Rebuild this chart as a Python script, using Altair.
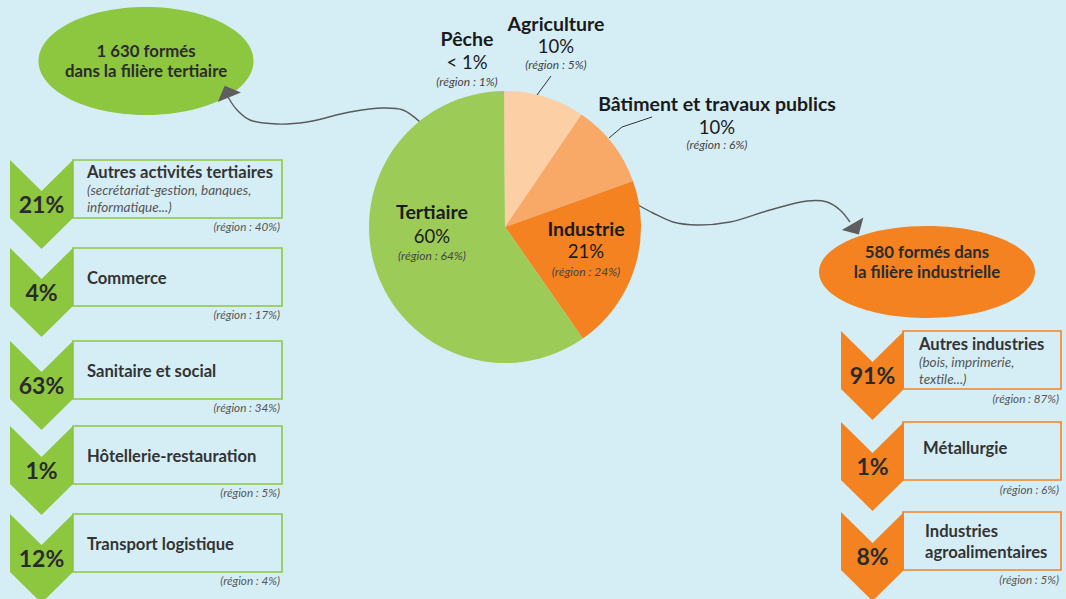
import altair as alt
import pandas as pd

# ------------------------------------------------------------------ data
pie_sectors = ["Agriculture", "Bâtiment et travaux publics", "Industrie", "Tertiaire", "Pêche"]
pie_shares = [9.5, 10.0, 20.8, 59.6, 0.1]          # slice sizes
pie_pct_labels = ["10%", "10%", "21%", "60%", "< 1%"]
pie_region = ["(région : 5%)", "(région : 6%)", "(région : 24%)", "(région : 64%)", "(région : 1%)"]
pie_colors = ["#FCCFA5", "#F8A867", "#F58220", "#9DCB57", "#FAC79A"]

tert_titles = ["Autres activités tertiaires", "Commerce", "Sanitaire et social",
               "Hôtellerie-restauration", "Transport logistique"]
tert_details = [["(secrétariat-gestion, banques,", "informatique...)"], [], [], [], []]
tert_shares = ["21%", "4%", "63%", "1%", "12%"]
tert_region = ["(région : 40%)", "(région : 17%)", "(région : 34%)", "(région : 5%)", "(région : 4%)"]

ind_titles = [["Autres industries"], ["Métallurgie"], ["Industries", "agroalimentaires"]]
ind_details = [["(bois, imprimerie,", "textile...)"], [], []]
ind_shares = ["91%", "1%", "8%"]
ind_region = ["(région : 87%)", "(région : 6%)", "(région : 5%)"]

bubble_tert = ["1 630 formés", "dans la filière tertiaire"]
bubble_ind = ["580 formés dans", "la filière industrielle"]

# ------------------------------------------------------------------ layout / style
W, H = 1066, 599
BG = "#D5EEF6"
GREEN = "#8DC63F"
ORANGE = "#F58220"
DARK = "#2B2B2B"
FONT = "Lato"

PIE_CX, PIE_CY, PIE_R = 505, 227, 136

X = alt.X("x:Q", scale=alt.Scale(domain=[0, W], nice=False, zero=False), axis=None)
Y = alt.Y("y:Q", scale=alt.Scale(domain=[0, H], nice=False, zero=False, reverse=True), axis=None)


def txt(rows, size, weight="normal", style="normal", align="center", color=DARK):
    df = pd.DataFrame(rows, columns=["text", "x", "y"])
    return alt.Chart(df).mark_text(
        font=FONT, fontSize=size, fontWeight=weight, fontStyle=style,
        align=align, baseline="middle", color=color
    ).encode(x=X, y=Y, text="text:N")


def symbol(df, path, size, color):
    return (alt.Chart(df)
            .mark_point(shape=path, size=size, filled=True, color=color, opacity=1, strokeWidth=0)
            .encode(x=X, y=Y))


layers = []

# ---- ellipses (bubbles)
def ellipse_path(b):
    k = 0.5523
    return (f"M -1 0 C -1 {-k*b:.4f} {-k:.4f} {-b:.4f} 0 {-b:.4f} "
            f"C {k:.4f} {-b:.4f} 1 {-k*b:.4f} 1 0 "
            f"C 1 {k*b:.4f} {k:.4f} {b:.4f} 0 {b:.4f} "
            f"C {-k:.4f} {b:.4f} -1 {k*b:.4f} -1 0 Z")

for (cx, cy, rx, ry, col) in [(146, 61, 107.5, 54, GREEN), (927, 272, 108, 46, ORANGE)]:
    layers.append(symbol(pd.DataFrame({"x": [cx], "y": [cy]}), ellipse_path(ry / rx), (2 * rx) ** 2, col))

# ---- curved arrows
curve_left = [(420, 122), (403, 110), (383, 108), (350, 112), (307, 122), (277, 124),
              (250, 120), (237, 110), (228, 97)]
curve_right = [(638, 205), (653, 213), (673, 222), (697, 225), (730, 222), (770, 210),
               (807, 201), (827, 202), (840, 210), (850, 222)]
rows = []
for cid, pts in enumerate([curve_left, curve_right]):
    for i, (px, py) in enumerate(pts):
        rows.append({"id": cid, "i": i, "x": px, "y": py})
layers.append(
    alt.Chart(pd.DataFrame(rows)).mark_line(interpolate="catmull-rom", color="#5A5A5A", strokeWidth=1.4)
    .encode(x=X, y=Y, order="i:Q", detail="id:N")
)
tri = "M 0 -0.5 L 1 0.5 L -1 0.5 Z"
layers.append(
    alt.Chart(pd.DataFrame({"x": [227, 855.7], "y": [91.5, 229.2], "a": [338, 150]}))
    .mark_point(shape=tri, size=625, filled=True, color="#5E5E5E", opacity=1, strokeWidth=0)
    .encode(x=X, y=Y, angle=alt.Angle("a:Q", scale=None))
)

# ---- pie
pie_df = pd.DataFrame({"sector": pie_sectors, "share": pie_shares, "ord": range(len(pie_sectors))})
layers.append(
    alt.Chart(pie_df).mark_arc(radius=PIE_R)
    .encode(theta=alt.Theta("share:Q", stack=True), order=alt.Order("ord:Q"),
            color=alt.Color("sector:N", scale=alt.Scale(domain=pie_sectors, range=pie_colors), legend=None),
            x=alt.value(PIE_CX), y=alt.value(PIE_CY))
)

# ---- leader lines
lead = [{"id": 0, "i": 0, "x": 551, "y": 76}, {"id": 0, "i": 1, "x": 537, "y": 95},
        {"id": 1, "i": 0, "x": 652, "y": 117}, {"id": 1, "i": 1, "x": 622, "y": 127},
        {"id": 1, "i": 2, "x": 609, "y": 138}]
layers.append(
    alt.Chart(pd.DataFrame(lead)).mark_line(color="#333333", strokeWidth=1)
    .encode(x=X, y=Y, order="i:Q", detail="id:N")
)

# ---- pie labels
pie_title_pos = {"Pêche": (467, 40), "Agriculture": (556, 25), "Bâtiment et travaux publics": (717, 105),
                 "Tertiaire": (432, 213), "Industrie": (586, 230)}
pct_dy = {"Pêche": 23, "Agriculture": 22, "Bâtiment et travaux publics": 23, "Tertiaire": 24, "Industrie": 22}
reg_dy = {"Pêche": 42, "Agriculture": 40, "Bâtiment et travaux publics": 40, "Tertiaire": 43, "Industrie": 42}
t_rows, p_rows, r_rows = [], [], []
for s, pl, rg in zip(pie_sectors, pie_pct_labels, pie_region):
    px, py = pie_title_pos[s]
    t_rows.append((s, px, py))
    p_rows.append((pl, px, py + pct_dy[s]))
    r_rows.append((rg, px, py + reg_dy[s]))
layers.append(txt(t_rows, 19.5, weight="bold", color="#1A1A1A"))
layers.append(txt(p_rows, 18.5, color="#1A1A1A"))
layers.append(txt(r_rows, 12, style="italic", color="#444444"))

# ---- bubble texts
layers.append(txt([(bubble_tert[0], 146, 52), (bubble_tert[1], 146, 72),
                   (bubble_ind[0], 927, 253), (bubble_ind[1], 927, 273)], 16.8, weight="bold"))

# ---- chevrons (custom symbol) + boxes
CH_W, CH_SIDE, CH_DEPTH = 63, 58, 31
CH_H = CH_SIDE + CH_DEPTH           # total height
half = CH_H / 2
hw = (CH_W / 2) / half
nd = CH_DEPTH / half
sd = CH_SIDE / half
chev = (f"M {-hw:.4f} -1 L 0 {-1 + nd:.4f} L {hw:.4f} -1 L {hw:.4f} {-1 + sd:.4f} "
        f"L 0 1 L {-hw:.4f} {-1 + sd:.4f} Z")

tert_tops = [160, 248, 341, 426, 514]
ind_tops = [331, 422, 512]

layers.append(symbol(pd.DataFrame({"x": [41.5] * 5, "y": [t + half for t in tert_tops]}), chev, CH_H ** 2, GREEN))
layers.append(symbol(pd.DataFrame({"x": [872.5] * 3, "y": [t + half for t in ind_tops]}), chev, CH_H ** 2, ORANGE))

box_l = pd.DataFrame({"x": [73] * 5, "x2": [282] * 5, "y": tert_tops, "y2": [t + 58 for t in tert_tops]})
box_r = pd.DataFrame({"x": [903] * 3, "x2": [1061] * 3, "y": ind_tops, "y2": [t + 58 for t in ind_tops]})
for df, col in [(box_l, GREEN), (box_r, ORANGE)]:
    layers.append(
        alt.Chart(df).mark_rect(fillOpacity=0, stroke=col, strokeWidth=1.6)
        .encode(x=X, x2="x2:Q", y=Y, y2="y2:Q")
    )

# ---- chevron / box texts (left)
title_rows, det_rows, pct_rows, reg_rows = [], [], [], []
for t, title, det, sh, rg in zip(tert_tops, tert_titles, tert_details, tert_shares, tert_region):
    if det:
        title_rows.append((title, 87, t + 13))
        for j, d in enumerate(det):
            det_rows.append((d, 87, t + 31 + 17 * j))
    else:
        title_rows.append((title, 87, t + 31))
    pct_rows.append((sh, 41.5, t + 46))
    reg_rows.append((rg, 280, t + 67))

# ---- right
ind_title_x = [919, 923, 925]
for t, tx, titles, det, sh, rg in zip(ind_tops, ind_title_x, ind_titles, ind_details, ind_shares, ind_region):
    if det:
        title_rows.append((titles[0], tx, t + 14))
        for j, d in enumerate(det):
            det_rows.append((d, tx, t + 32 + 17 * j))
    elif len(titles) == 2:
        title_rows.append((titles[0], tx, t + 20))
        title_rows.append((titles[1], tx, t + 41))
    else:
        title_rows.append((titles[0], tx, t + 27))
    pct_rows.append((sh, 872.5, t + 46))
    reg_rows.append((rg, 1059, t + 68))

layers.append(txt(title_rows, 16.6, weight="bold", align="left", color="#333333"))
layers.append(txt(det_rows, 13.5, style="italic", align="left", color="#555555"))
layers.append(txt(pct_rows, 23, weight="bold", color="#2A2A2A"))
layers.append(txt(reg_rows, 11.7, style="italic", align="right", color="#555555"))

chart = (
    alt.layer(*layers)
    .properties(width=W, height=H, padding=0, autosize="none", background=BG)
    .configure_view(stroke=None)
)

chart.save("out.html", embed_options={"renderer": "svg", "actions": False})
